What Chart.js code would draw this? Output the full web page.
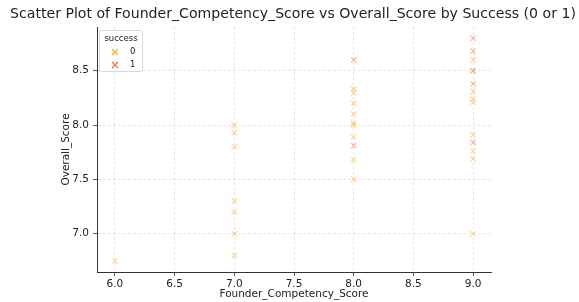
<!DOCTYPE html>
<html>
<head>
<meta charset="utf-8">
<script src="https://cdn.jsdelivr.net/npm/chart.js@4"></script>
<style>
  html, body { margin: 0; padding: 0; background: #fff; }
  #wrap { width: 579px; height: 302px; }
</style>
</head>
<body>
<div id="wrap"><canvas id="scatterChart" width="579" height="302"></canvas></div>
<script>
// data
var title = 'Scatter Plot of Founder_Competency_Score vs Overall_Score by Success (0 or 1)';
var xLabel = 'Founder_Competency_Score';
var yLabel = 'Overall_Score';
var legendTitle = 'success';
var groupNames = ['0', '1'];

var x0 = [6, 7, 7, 7, 7, 7, 7, 7, 8, 8, 8, 8, 8, 8, 8, 8, 8, 9, 9, 9, 9, 9, 9, 9, 9, 9];
var y0 = [6.75, 8.0, 7.93, 7.8, 7.3, 7.2, 7.0, 6.8, 8.33, 8.3, 8.2, 8.1, 8.02, 8.0, 7.89, 7.68, 7.5,
          8.6, 8.5, 8.31, 8.24, 8.21, 7.91, 7.76, 7.69, 7.0];
var x1 = [8, 8, 9, 9, 9, 9, 9];
var y1 = [8.6, 7.81, 8.8, 8.68, 8.5, 8.38, 7.84];

var xTicks = [6.0, 6.5, 7.0, 7.5, 8.0, 8.5, 9.0];
var yTicks = [7.0, 7.5, 8.0, 8.5];

var colors = ['rgba(255,165,0,0.45)', 'rgba(240,90,40,0.45)'];
var legendColors = ['rgba(255,165,0,0.9)', 'rgba(240,90,40,0.85)'];

var FONT = 'DejaVu Sans, sans-serif';

function toPoints(xs, ys) {
  return xs.map(function(x, i) { return { x: x, y: ys[i] }; });
}

// Same 5% padding matplotlib puts around the data
function padRange(vals) {
  var lo = Math.min.apply(null, vals), hi = Math.max.apply(null, vals);
  var m = (hi - lo) * 0.05;
  return [lo - m, hi + m];
}
var xr = padRange(x0.concat(x1));
var yr = padRange(y0.concat(y1));

// title, axis labels and legend box drawn by hand
var textPlugin = {
  id: 'textPlugin',
  afterDraw: function(chart) {
    var ctx = chart.ctx;
    var area = chart.chartArea;
    var cx = (area.left + area.right) / 2;
    ctx.save();
    ctx.fillStyle = '#222';
    ctx.textAlign = 'center';
    ctx.textBaseline = 'middle';
    ctx.font = '14.1px ' + FONT;
    ctx.fillText(title, cx - 1, 14);

    ctx.font = '10.5px ' + FONT;
    ctx.fillText(xLabel, cx, 294);
    ctx.save();
    ctx.translate(66, (area.top + area.bottom) / 2);
    ctx.rotate(-Math.PI / 2);
    ctx.fillText(yLabel, 0, 0);
    ctx.restore();

    // legend
    var lx = area.left + 2, ly = area.top + 3, lw = 43, lh = 41;
    ctx.fillStyle = 'rgba(255,255,255,0.8)';
    ctx.strokeStyle = '#d8d8d8';
    ctx.lineWidth = 1;
    ctx.beginPath();
    ctx.roundRect(lx + 0.5, ly + 0.5, lw, lh, 2);
    ctx.fill();
    ctx.stroke();
    ctx.fillStyle = '#222';
    ctx.font = '8.5px ' + FONT;
    ctx.fillText(legendTitle, lx + lw / 2 + 0.5, ly + 9);
    for (var i = 0; i < groupNames.length; i++) {
      var my = ly + 22 + i * 13;
      var mx = lx + 16;
      ctx.strokeStyle = legendColors[i];
      ctx.lineWidth = 1.2;
      ctx.beginPath();
      ctx.moveTo(mx - 3, my - 3); ctx.lineTo(mx + 3, my + 3);
      ctx.moveTo(mx - 3, my + 3); ctx.lineTo(mx + 3, my - 3);
      ctx.stroke();
      ctx.fillStyle = '#222';
      ctx.textAlign = 'left';
      ctx.fillText(groupNames[i], lx + 31, my);
      ctx.textAlign = 'center';
    }
    ctx.restore();
  }
};

var ctx = document.getElementById('scatterChart').getContext('2d');
var scatterChart = new Chart(ctx, {
  type: 'scatter',
  data: {
    datasets: [
      {
        label: groupNames[0],
        data: toPoints(x0, y0),
        pointStyle: 'crossRot',
        pointRadius: 3.8,
        pointBorderWidth: 1.1,
        borderColor: colors[0],
        backgroundColor: colors[0]
      },
      {
        label: groupNames[1],
        data: toPoints(x1, y1),
        pointStyle: 'crossRot',
        pointRadius: 3.8,
        pointBorderWidth: 1.1,
        borderColor: colors[1],
        backgroundColor: colors[1]
      }
    ]
  },
  options: {
    responsive: false,
    animation: false,
    events: [],
    layout: { padding: { left: 0, right: 88, top: 27, bottom: 0 } },
    plugins: {
      legend: { display: false },
      title: { display: false },
      tooltip: { enabled: false }
    },
    scales: {
      x: {
        type: 'linear',
        min: xr[0],
        max: xr[1],
        afterBuildTicks: function(scale) {
          scale.ticks = xTicks.map(function(v) { return { value: v }; });
        },
        afterFit: function(scale) { scale.height = 30; },
        grid: { color: '#dedede', tickColor: '#333', tickLength: 4, lineWidth: 0.8 },
        border: { color: '#333', width: 1, dash: [3, 2] },
        ticks: {
          color: '#222',
          padding: 2,
          maxRotation: 0,
          font: { family: FONT, size: 10.5 },
          callback: function(v) { return Number(v).toFixed(1); }
        }
      },
      y: {
        type: 'linear',
        min: yr[0],
        max: yr[1],
        afterBuildTicks: function(scale) {
          scale.ticks = yTicks.map(function(v) { return { value: v }; });
        },
        afterFit: function(scale) { scale.width = 97; },
        grid: { color: '#dedede', tickColor: '#333', tickLength: 4, lineWidth: 0.8 },
        border: { color: '#333', width: 1, dash: [3, 2] },
        ticks: {
          color: '#222',
          padding: 4,
          font: { family: FONT, size: 10.5 },
          callback: function(v) { return Number(v).toFixed(1); }
        }
      }
    }
  },
  plugins: [textPlugin]
});
</script>
</body>
</html>
